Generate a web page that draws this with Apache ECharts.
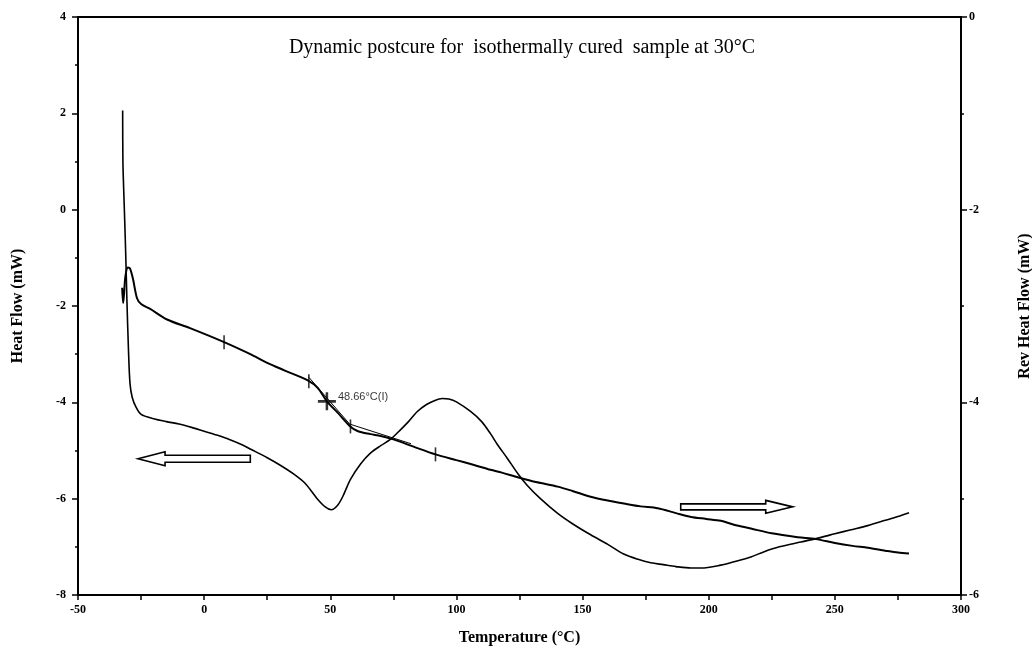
<!DOCTYPE html>
<html>
<head>
<meta charset="utf-8">
<script src="https://cdn.jsdelivr.net/npm/echarts@6/dist/echarts.min.js"></script>
<style>
html,body{margin:0;padding:0;background:#fff;overflow:hidden;}
#chart{width:1032px;height:649px;}
</style>
</head>
<body>
<div id="chart"></div>
<script>
// ---- Data ----
const titleText = "Dynamic postcure for  isothermally cured  sample at 30°C";
const xName = "Temperature (°C)";
const leftName = "Heat Flow (mW)";
const rightName = "Rev Heat Flow (mW)";

// Heat Flow (left axis, mW) vs Temperature (°C)
const heatFlowTemp = [-32.3,-32.2,-31.9,-31.5,-31.1,-30.6,-30.0,-29.4,-28.5,-27,-25,-20,-15,-10,-5,0,5,10,15,18.7,25,30,35.3,40,44.8,48,50.4,53,55,58,62,66,70,73.8,78,81,84.5,88,91,94.4,97,100,105.6,110,113.5,116.3,120,124.6,128,133.3,140,146,153.2,160,166.3,172,177,182,187,193,197,204.8,210,216.7,222,228,236.5,242.5,250,256,263,270,275,279.4];
const heatFlow =     [2.06,1.0,0.44,-0.2,-0.9,-1.9,-2.9,-3.6,-3.9,-4.1,-4.25,-4.34,-4.4,-4.45,-4.52,-4.6,-4.68,-4.77,-4.88,-4.98,-5.15,-5.3,-5.48,-5.68,-6.0,-6.17,-6.23,-6.13,-5.95,-5.6,-5.28,-5.05,-4.9,-4.77,-4.56,-4.4,-4.19,-4.05,-3.97,-3.92,-3.93,-3.99,-4.19,-4.4,-4.65,-4.88,-5.15,-5.5,-5.72,-6.0,-6.3,-6.52,-6.75,-6.95,-7.15,-7.26,-7.33,-7.37,-7.41,-7.44,-7.44,-7.38,-7.31,-7.21,-7.1,-7.0,-6.9,-6.83,-6.73,-6.65,-6.56,-6.45,-6.37,-6.29];

// Reversing Heat Flow (right axis, mW) vs Temperature (°C)
const revTemp = [-32.5,-32.1,-31.2,-30.2,-29.4,-28.2,-26.6,-25,-21.4,-14.7,-5.6,7.9,18.3,25,32,40.9,45,48.66,53,57.9,61,65.9,70,75,83,91.7,100,107,113.5,118,124.6,132,140.1,146,153.2,160,166.3,173,179.8,187,193,199,204.8,210,216.7,225,235.3,242.5,250,257,263.1,270,275,279.4];
const revHeatFlow = [-2.81,-2.97,-2.69,-2.6,-2.61,-2.72,-2.92,-2.98,-3.03,-3.14,-3.23,-3.375,-3.5,-3.59,-3.67,-3.77,-3.85,-3.99,-4.11,-4.25,-4.3,-4.33,-4.35,-4.385,-4.46,-4.54,-4.6,-4.65,-4.7,-4.73,-4.78,-4.83,-4.875,-4.92,-4.98,-5.02,-5.05,-5.08,-5.1,-5.15,-5.19,-5.21,-5.23,-5.27,-5.31,-5.36,-5.4,-5.42,-5.46,-5.49,-5.51,-5.54,-5.56,-5.57];

// analysis tick marks on the reversing curve (temperature, value)
const markTemp = [7.9,41.5,58,91.7];
const markVal  = [-3.375,-3.78,-4.25,-4.54];
// glass transition inflection
const tgTemp = 48.66;
const tgVal = -3.99;
const tgLabel = "48.66°C(I)";
// tangent construction lines
const tangentTemp = [41.5,57.5];
const tangentVal  = [-3.74,-4.22];
const tangent2Temp = [57,82];
const tangent2Val  = [-4.22,-4.43];

// axis ranges
const xMin=-50, xMax=300, xStep=50;
const yLMin=-8, yLMax=4, yLStep=2;
const yRMin=-6, yRMax=0, yRStep=2;

const zip=(a,b)=>a.map((v,i)=>[v,b[i]]);

const serif = "'Liberation Serif','DejaVu Serif',serif";
const chart = echarts.init(document.getElementById('chart'), null, {renderer:'canvas'});

const axisLabelStyle = {color:'#000', fontFamily:serif, fontWeight:'bold', fontSize:12};
const nameStyle = {fontFamily:serif, fontWeight:'bold', fontSize:16, color:'#000'};
const option = {
  backgroundColor:'#fff',
  animation:false,
  title:{
    text:titleText, left:517, top:33, textAlign:'center',
    textStyle:{fontFamily:serif, fontWeight:'normal', fontSize:20, color:'#000'}
  },
  grid:{left:78, right:71, top:17, bottom:54, outerBoundsMode:'none', containLabel:false,
        show:true, borderColor:'#000', borderWidth:2, backgroundColor:'transparent'},
  xAxis:{
    type:'value', min:xMin, max:xMax, interval:xStep,
    name:xName, nameLocation:'middle', nameGap:35,
    nameTextStyle:nameStyle,
    axisLine:{show:true, onZero:false, lineStyle:{color:'#000', width:2}},
    axisTick:{show:true, length:5, lineStyle:{color:'#000', width:1.5}},
    minorTick:{show:true, splitNumber:2, length:5, lineStyle:{color:'#000', width:1.5}},
    splitLine:{show:false},
    axisLabel:Object.assign({margin:9}, axisLabelStyle)
  },
  yAxis:[{
    type:'value', min:yLMin, max:yLMax, interval:yLStep, position:'left',
    name:leftName, nameLocation:'middle', nameGap:52, nameRotate:90,
    nameTextStyle:nameStyle,
    axisLine:{show:true, onZero:false, lineStyle:{color:'#000', width:2}},
    axisTick:{show:true, length:6, lineStyle:{color:'#000', width:1.5}},
    minorTick:{show:true, splitNumber:2, length:3, lineStyle:{color:'#000', width:1.5}},
    splitLine:{show:false},
    axisLabel:Object.assign({margin:12}, axisLabelStyle)
  },{
    type:'value', min:yRMin, max:yRMax, interval:yRStep, position:'right',
    name:rightName, nameLocation:'middle', nameGap:56, nameRotate:90,
    nameTextStyle:nameStyle,
    axisLine:{show:true, onZero:false, lineStyle:{color:'#000', width:2}},
    axisTick:{show:true, length:6, lineStyle:{color:'#000', width:1.5}},
    minorTick:{show:true, splitNumber:2, length:3, lineStyle:{color:'#000', width:1.5}},
    splitLine:{show:false},
    axisLabel:Object.assign({margin:8}, axisLabelStyle)
  }],
  series:[
    {name:'Heat Flow', type:'line', yAxisIndex:0, data:zip(heatFlowTemp,heatFlow), smooth:0.3,
     showSymbol:false, lineStyle:{color:'#000', width:1.6}},
    {name:'Rev Heat Flow', type:'line', yAxisIndex:1, data:zip(revTemp,revHeatFlow), smooth:0.3,
     showSymbol:false, lineStyle:{color:'#000', width:2}},
    {name:'tangent1', type:'line', yAxisIndex:1, data:zip(tangentTemp,tangentVal),
     showSymbol:false, lineStyle:{color:'#000', width:1}},
    {name:'tangent2', type:'line', yAxisIndex:1, data:zip(tangent2Temp,tangent2Val),
     showSymbol:false, lineStyle:{color:'#000', width:1}},
    {name:'marks', type:'scatter', yAxisIndex:1, data:zip(markTemp,markVal),
     symbol:'rect', symbolSize:[1.6,14], itemStyle:{color:'#000'}},
    {name:'Tg', type:'scatter', yAxisIndex:1, data:[[tgTemp,tgVal]],
     symbol:'path://M4.3,0h1.4v4.3h4.3v1.4h-4.3v4.3h-1.4v-4.3h-4.3v-1.4h4.3z', symbolSize:18,
     itemStyle:{color:'#000'},
     label:{show:true, formatter:tgLabel, position:'right', distance:2, offset:[0,-4],
       fontFamily:"'Liberation Sans',Arial,sans-serif", fontSize:11, color:'#000'}}
  ]
};
chart.setOption(option);

// hollow arrows (data-space anchors)
function arrowPoly(tailX, tipX, yv, axisIdx, headLen, shaftHalf, headHalf){
  const t = chart.convertToPixel({xAxisIndex:0, yAxisIndex:axisIdx}, [tailX, yv]);
  const p = chart.convertToPixel({xAxisIndex:0, yAxisIndex:axisIdx}, [tipX, yv]);
  const dir = p[0] > t[0] ? 1 : -1;
  const bx = p[0] - dir*headLen, y = p[1];
  return [[t[0],y-shaftHalf],[bx,y-shaftHalf],[bx,y-headHalf],[p[0],y],[bx,y+headHalf],[bx,y+shaftHalf],[t[0],y+shaftHalf]];
}
const leftArrow = arrowPoly(18.3, -26.2, -5.17, 0, 27, 3.5, 7);
const rightArrow = arrowPoly(188.9, 233.3, -6.17, 0, 27, 3, 6.5);
chart.setOption({graphic:[
  {type:'polygon', shape:{points:leftArrow}, style:{fill:'#fff', stroke:'#000', lineWidth:1.6}, z:10},
  {type:'polygon', shape:{points:rightArrow}, style:{fill:'#fff', stroke:'#000', lineWidth:1.6}, z:10}
]});
</script>
</body>
</html>
